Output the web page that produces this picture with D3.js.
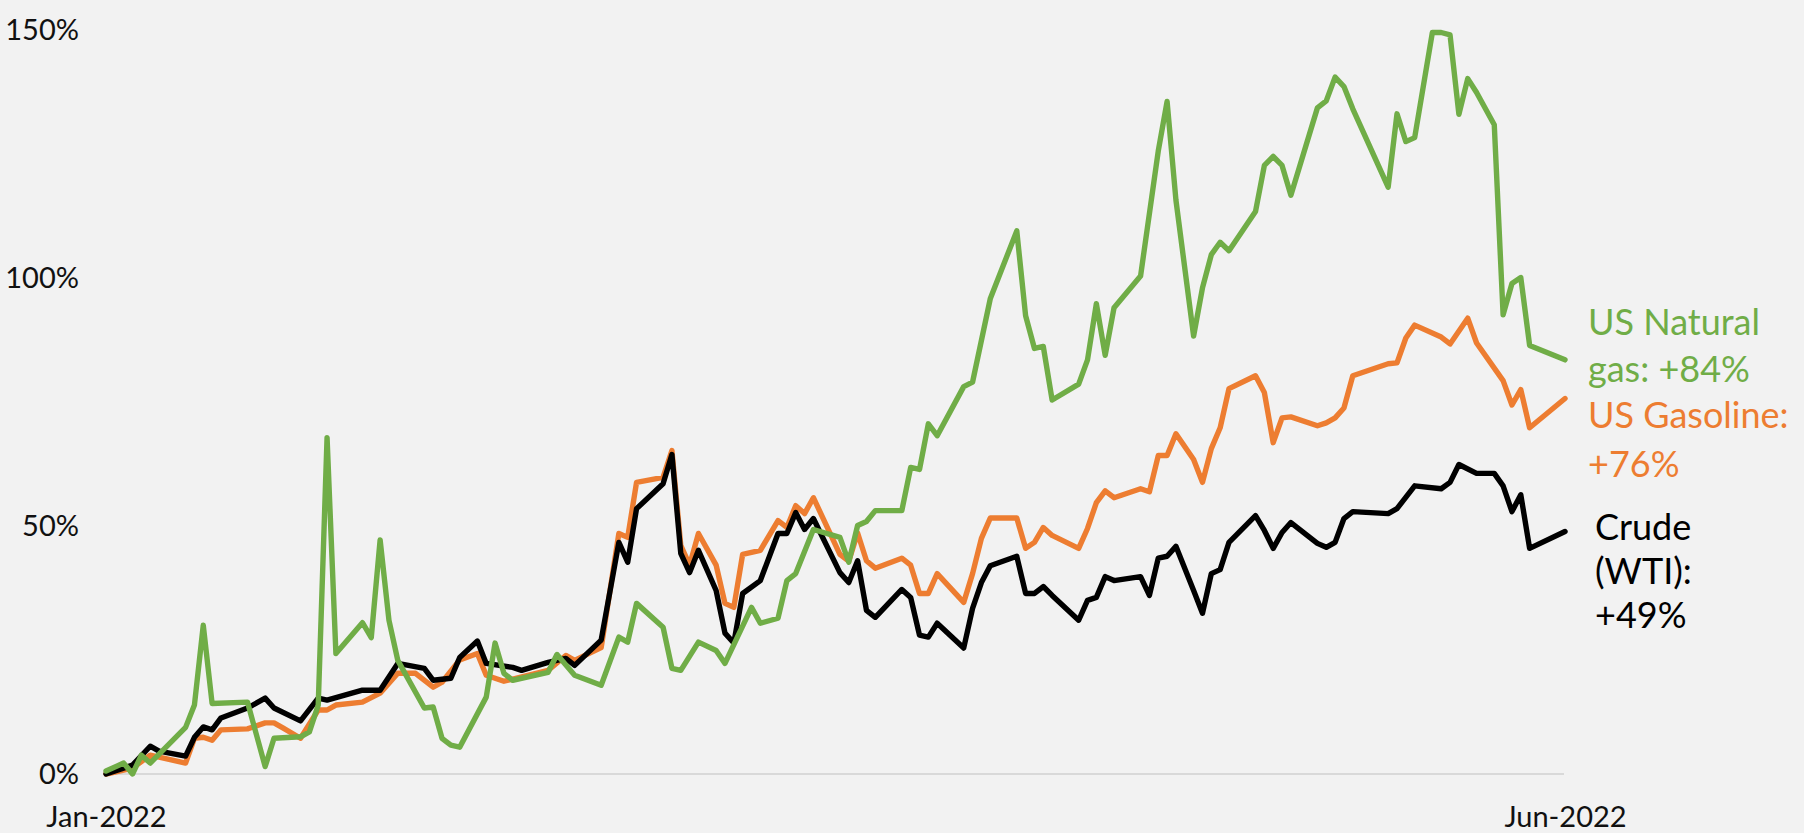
<!DOCTYPE html>
<html>
<head>
<meta charset="utf-8">
<script src="https://cdn.jsdelivr.net/npm/d3@7"></script>
<style>
  html, body { margin: 0; padding: 0; background: #f2f2f2; }
  svg { display: block; font-family: Lato, "Open Sans", sans-serif; }
</style>
</head>
<body>
<svg id="chart" width="1804" height="833"></svg>
<script>
// ---- data (percent change since start of 2022) ----
const crude = [
  ["2022-01-03",0],["2022-01-06",1.8],["2022-01-08",5.6],["2022-01-09",4.6],["2022-01-12",3.6],
  ["2022-01-13",7.4],["2022-01-14",9.5],["2022-01-15",8.9],["2022-01-16",11.3],["2022-01-19",13.3],
  ["2022-01-21",15.3],["2022-01-22",13.3],["2022-01-25",10.7],["2022-01-27",15.3],["2022-01-28",14.9],
  ["2022-02-01",16.9],["2022-02-03",16.9],["2022-02-05",22.3],["2022-02-08",21.3],["2022-02-09",18.9],
  ["2022-02-11",19.3],["2022-02-12",23.5],["2022-02-14",26.8],["2022-02-15",22.3],["2022-02-18",21.5],
  ["2022-02-19",20.9],["2022-02-22",22.5],["2022-02-24",23.3],["2022-02-25",21.9],["2022-02-28",27.0],
  ["2022-03-02",46.7],["2022-03-03",42.7],["2022-03-04",53.5],["2022-03-07",58.5],["2022-03-08",64.4],
  ["2022-03-09",44.5],["2022-03-10",40.6],["2022-03-11",45.1],["2022-03-13",37.0],["2022-03-14",28.4],
  ["2022-03-15",26.4],["2022-03-16",36.4],["2022-03-18",39.0],["2022-03-20",48.5],["2022-03-21",48.5],
  ["2022-03-22",52.7],["2022-03-23",49.3],["2022-03-24",51.5],["2022-03-27",40.6],["2022-03-28",38.6],
  ["2022-03-29",43.0],["2022-03-30",33.0],["2022-03-31",31.6],["2022-04-03",37.2],["2022-04-04",35.6],
  ["2022-04-05",28.0],["2022-04-06",27.6],["2022-04-07",30.4],["2022-04-10",25.4],["2022-04-11",33.4],
  ["2022-04-12",38.6],["2022-04-13",42.0],["2022-04-16",43.9],["2022-04-17",36.4],["2022-04-18",36.4],
  ["2022-04-19",37.8],["2022-04-20",36.0],["2022-04-23",31.0],["2022-04-24",35.0],["2022-04-25",35.6],
  ["2022-04-26",39.8],["2022-04-27",39.0],["2022-04-30",39.8],["2022-05-01",36.0],["2022-05-02",43.5],
  ["2022-05-03",43.9],["2022-05-04",45.9],["2022-05-06",37.0],["2022-05-07",32.4],["2022-05-08",40.4],
  ["2022-05-09",41.2],["2022-05-10",46.7],["2022-05-13",52.1],["2022-05-14",49.1],["2022-05-15",45.5],
  ["2022-05-16",48.7],["2022-05-17",50.7],["2022-05-20",46.5],["2022-05-21",45.7],["2022-05-22",46.7],
  ["2022-05-23",51.5],["2022-05-24",52.9],["2022-05-28",52.5],["2022-05-29",53.5],["2022-05-31",58.1],
  ["2022-06-03",57.5],["2022-06-04",58.8],["2022-06-05",62.4],["2022-06-07",60.6],["2022-06-09",60.6],
  ["2022-06-10",58.1],["2022-06-11",52.9],["2022-06-12",56.3],["2022-06-13",45.5],["2022-06-17",48.9]
];
const gasoline = [
  ["2022-01-03",0],["2022-01-06",1.2],["2022-01-08",3.8],["2022-01-12",2.2],["2022-01-13",7.2],
  ["2022-01-14",7.4],["2022-01-15",6.8],["2022-01-16",8.9],["2022-01-19",9.1],["2022-01-21",10.3],
  ["2022-01-22",10.3],["2022-01-23",9.3],["2022-01-25",7.2],["2022-01-27",12.9],["2022-01-28",12.9],
  ["2022-01-29",13.9],["2022-02-01",14.5],["2022-02-03",16.3],["2022-02-05",20.3],["2022-02-07",20.3],
  ["2022-02-09",17.5],["2022-02-10",18.5],["2022-02-12",23.0],["2022-02-14",24.3],["2022-02-15",19.9],
  ["2022-02-17",18.7],["2022-02-22",20.9],["2022-02-24",23.9],["2022-02-25",22.9],["2022-02-28",25.5],
  ["2022-03-02",48.5],["2022-03-03",47.7],["2022-03-04",58.8],["2022-03-07",59.8],["2022-03-08",65.2],
  ["2022-03-09",46.1],["2022-03-10",42.1],["2022-03-11",48.5],["2022-03-13",42.1],["2022-03-14",34.4],
  ["2022-03-15",33.6],["2022-03-16",44.3],["2022-03-18",45.1],["2022-03-20",51.1],["2022-03-21",49.7],
  ["2022-03-22",54.1],["2022-03-23",52.5],["2022-03-24",55.7],["2022-03-27",44.3],["2022-03-28",42.9],
  ["2022-03-29",48.6],["2022-03-30",43.0],["2022-03-31",41.5],["2022-04-03",43.5],["2022-04-04",42.1],
  ["2022-04-05",36.4],["2022-04-06",36.4],["2022-04-07",40.4],["2022-04-10",34.6],["2022-04-11",40.4],
  ["2022-04-12",47.5],["2022-04-13",51.6],["2022-04-16",51.6],["2022-04-17",45.5],["2022-04-18",46.7],
  ["2022-04-19",49.7],["2022-04-20",48.1],["2022-04-23",45.5],["2022-04-24",49.5],["2022-04-25",54.7],
  ["2022-04-26",57.1],["2022-04-27",55.7],["2022-04-30",57.5],["2022-05-01",56.9],["2022-05-02",64.2],
  ["2022-05-03",64.2],["2022-05-04",68.6],["2022-05-06",63.4],["2022-05-07",58.8],["2022-05-08",65.6],
  ["2022-05-09",69.8],["2022-05-10",77.7],["2022-05-13",80.3],["2022-05-14",76.9],["2022-05-15",66.8],
  ["2022-05-16",71.8],["2022-05-17",72.0],["2022-05-20",70.2],["2022-05-21",70.8],["2022-05-22",71.8],
  ["2022-05-23",73.8],["2022-05-24",80.3],["2022-05-28",82.7],["2022-05-29",82.9],["2022-05-30",87.9],
  ["2022-05-31",90.5],["2022-06-03",88.1],["2022-06-04",86.7],["2022-06-06",91.9],["2022-06-07",86.9],
  ["2022-06-10",79.3],["2022-06-11",74.4],["2022-06-12",77.5],["2022-06-13",69.8],["2022-06-17",75.7]
];
const natgas = [
  ["2022-01-03",0.6],["2022-01-05",2.2],["2022-01-06",0.0],["2022-01-07",3.8],["2022-01-08",2.2],
  ["2022-01-12",9.4],["2022-01-13",13.9],["2022-01-14",30.0],["2022-01-15",14.2],["2022-01-19",14.5],
  ["2022-01-21",1.5],["2022-01-22",7.2],["2022-01-25",7.5],["2022-01-26",8.5],["2022-01-27",13.9],
  ["2022-01-28",67.8],["2022-01-29",24.3],["2022-02-01",30.5],["2022-02-02",27.5],["2022-02-03",47.2],
  ["2022-02-04",31.0],["2022-02-05",22.9],["2022-02-08",13.3],["2022-02-09",13.5],["2022-02-10",7.2],
  ["2022-02-11",5.8],["2022-02-12",5.4],["2022-02-15",15.5],["2022-02-16",26.4],["2022-02-17",20.3],
  ["2022-02-18",18.9],["2022-02-22",20.5],["2022-02-23",24.1],["2022-02-25",19.9],["2022-02-28",17.9],
  ["2022-03-02",27.6],["2022-03-03",26.6],["2022-03-04",34.4],["2022-03-07",29.6],["2022-03-08",21.3],
  ["2022-03-09",20.9],["2022-03-11",26.6],["2022-03-13",24.9],["2022-03-14",22.3],["2022-03-17",33.6],
  ["2022-03-18",30.4],["2022-03-20",31.4],["2022-03-21",39.0],["2022-03-22",40.4],["2022-03-24",49.3],
  ["2022-03-27",47.7],["2022-03-28",42.7],["2022-03-29",50.1],["2022-03-30",50.9],["2022-03-31",53.1],
  ["2022-04-03",53.1],["2022-04-04",61.8],["2022-04-05",61.4],["2022-04-06",70.6],["2022-04-07",68.2],
  ["2022-04-10",78.1],["2022-04-11",79.0],["2022-04-13",95.8],["2022-04-16",109.5],["2022-04-17",92.4],
  ["2022-04-18",85.8],["2022-04-19",86.2],["2022-04-20",75.4],["2022-04-23",78.6],["2022-04-24",83.5],
  ["2022-04-25",94.8],["2022-04-26",84.4],["2022-04-27",94.0],["2022-04-30",100.4],["2022-05-02",125.6],
  ["2022-05-03",135.6],["2022-05-04",115.7],["2022-05-06",88.3],["2022-05-07",98.0],["2022-05-08",104.7],
  ["2022-05-09",107.2],["2022-05-10",105.5],["2022-05-13",113.4],["2022-05-14",122.7],["2022-05-15",124.5],
  ["2022-05-16",122.7],["2022-05-17",116.7],["2022-05-20",134.3],["2022-05-21",135.7],["2022-05-22",140.5],
  ["2022-05-23",138.6],["2022-05-24",134.1],["2022-05-28",118.3],["2022-05-29",133.1],["2022-05-30",127.5],
  ["2022-05-31",128.3],["2022-06-02",149.5],["2022-06-03",149.5],["2022-06-04",149.0],["2022-06-05",133.0],
  ["2022-06-06",140.2],["2022-06-07",137.4],["2022-06-09",130.9],["2022-06-10",92.6],["2022-06-11",98.9],
  ["2022-06-12",100.1],["2022-06-13",86.4],["2022-06-17",83.5]
];
const yTicks = [0, 50, 100, 150];
const xTickDates = ["2022-01-03", "2022-06-17"];
const seriesNames = ["US Gasoline", "Crude (WTI)", "US Natural gas"];
const labelLines = {
  "US Natural gas": ["US Natural", "gas: +84%"],
  "US Gasoline": ["US Gasoline:", "+76%"],
  "Crude (WTI)": ["Crude", "(WTI):", "+49%"]
};

// ---- drawing ----
const parse = d3.timeParse("%Y-%m-%d");
const colors = { "US Natural gas": "#70ad47", "US Gasoline": "#ed7d31", "Crude (WTI)": "#000000" };
const dataBy = { "US Natural gas": natgas, "US Gasoline": gasoline, "Crude (WTI)": crude };

const svg = d3.select("#chart");
svg.append("rect").attr("width", 1804).attr("height", 833).attr("fill", "#f2f2f2");

const x = d3.scaleTime()
  .domain([parse(xTickDates[0]), parse(xTickDates[1])])
  .range([106, 1565]);
const y = d3.scaleLinear().domain([0, 150]).range([774, 30]);

// baseline
svg.append("line")
  .attr("x1", 106).attr("x2", 1564)
  .attr("y1", y(0)).attr("y2", y(0))
  .attr("stroke", "#d9d9d9").attr("stroke-width", 2);

// y axis
const yAxis = svg.append("g")
  .attr("transform", "translate(82,0)")
  .call(d3.axisLeft(y).tickValues(yTicks).tickSize(0).tickPadding(3).tickFormat(d => d + "%"));
yAxis.select(".domain").remove();
yAxis.selectAll("text")
  .attr("font-size", 29).attr("fill", "#111").attr("font-family", "Lato, sans-serif");

// x axis
const xAxis = svg.append("g")
  .attr("transform", `translate(0,${y(0)})`)
  .call(d3.axisBottom(x).tickValues(xTickDates.map(parse)).tickSize(0).tickPadding(32)
    .tickFormat(d3.timeFormat("%b-%Y")));
xAxis.select(".domain").remove();
xAxis.selectAll("text")
  .attr("font-size", 29).attr("fill", "#111").attr("font-family", "Lato, sans-serif");

// lines
const line = d3.line()
  .x(d => x(parse(d[0])))
  .y(d => y(d[1]));

seriesNames.forEach(name => {
  svg.append("path")
    .datum(dataBy[name])
    .attr("fill", "none")
    .attr("stroke", colors[name])
    .attr("stroke-width", 5.4)
    .attr("stroke-linejoin", "round")
    .attr("stroke-linecap", "round")
    .attr("d", line);
});

// end labels
const labelPos = {
  "US Natural gas": { x: 1588, y: 335, dy: 47 },
  "US Gasoline": { x: 1588, y: 428, dy: 49 },
  "Crude (WTI)": { x: 1595, y: 540, dy: 44 }
};
Object.keys(labelLines).forEach(name => {
  const p = labelPos[name];
  const t = svg.append("text")
    .attr("x", p.x).attr("y", p.y)
    .attr("fill", colors[name])
    .attr("font-size", 36)
    .attr("font-family", "Lato, sans-serif");
  labelLines[name].forEach((s, i) => {
    t.append("tspan").attr("x", p.x).attr("y", p.y + i * p.dy).text(s);
  });
});
</script>
</body>
</html>
